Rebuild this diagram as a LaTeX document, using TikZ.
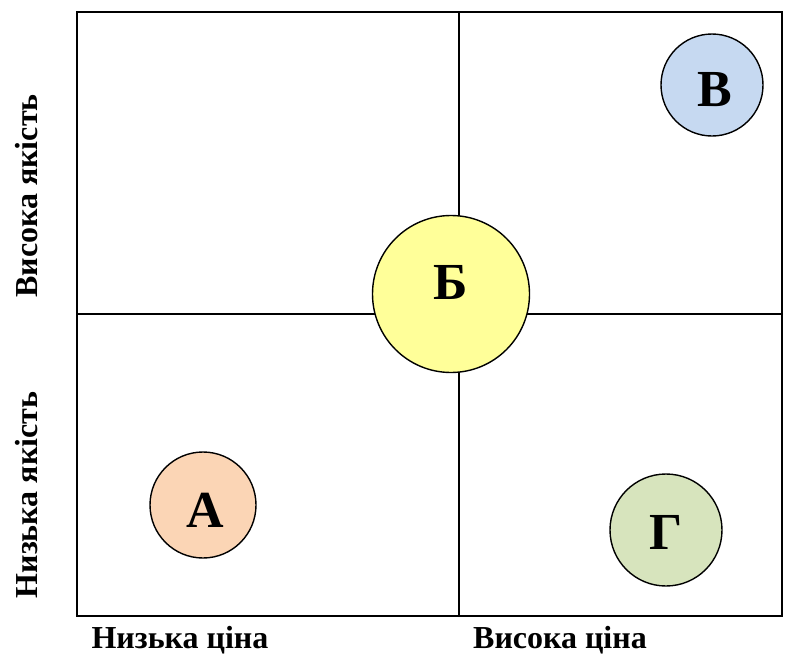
\documentclass[tikz,border=0pt]{standalone}
\usepackage{fontspec}
\setmainfont{Liberation Serif}
\usepackage{tikz}
\usepackage{xcolor}
\definecolor{peachA}{HTML}{FBD5B5}
\definecolor{yellowB}{HTML}{FFFF99}
\definecolor{blueV}{HTML}{C6D9F1}
\definecolor{greenG}{HTML}{D7E4BD}

\begin{document}
\begin{tikzpicture}[x=1pt,y=-1pt,line cap=round,
  firm/.style={circle,draw,line width=1.4pt,inner sep=0pt},
  letter/.style={font=\fontsize{52}{52}\selectfont\bfseries,inner sep=0pt},
  axislabel/.style={font=\fontsize{32}{32}\selectfont\bfseries,inner sep=0pt}]
\useasboundingbox (0,0) rectangle (789,653);
% matrix frame
\draw[line width=2pt] (77,12) rectangle (782,616);
\draw[line width=2pt] (459,12) -- (459,616);
\draw[line width=2pt] (77,314) -- (782,314);
% firms
\node[firm,fill=yellowB,minimum size=157pt,label={[letter,yshift=12pt]center:Б}] (firmB) at (451,294) {};
\node[firm,fill=blueV,minimum size=102pt,label={[letter,yshift=-5pt,xshift=3pt]center:В}] (firmV) at (712,85) {};
\node[firm,fill=peachA,minimum size=106pt,label={[letter,yshift=-5pt,xshift=2pt]center:А}] (firmA) at (203,505) {};
\node[firm,fill=greenG,minimum size=112pt,label={[letter,yshift=-2pt]center:Г}] (firmG) at (666,530) {};
% axis labels
\node[axislabel,anchor=base] (lowprice) at (180,648) {Низька ціна};
\node[axislabel,anchor=base] (highprice) at (560,648) {Висока ціна};
\node[axislabel,rotate=90,anchor=base] (highquality) at (37,196) {Висока якість};
\node[axislabel,rotate=90,anchor=base] (lowquality) at (37,495) {Низька якість};
\end{tikzpicture}
\end{document}
